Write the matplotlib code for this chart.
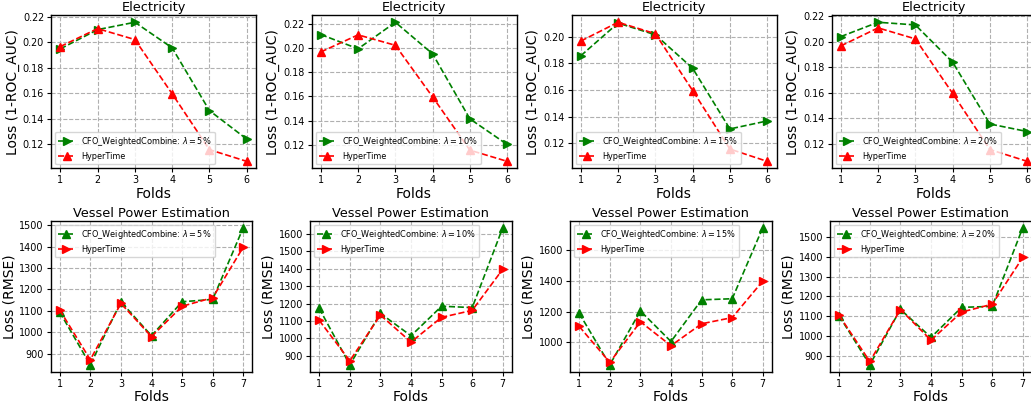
import matplotlib
matplotlib.use("Agg")
import matplotlib.pyplot as plt
from matplotlib.ticker import MultipleLocator

# Electricity (6 folds), loss = 1 - ROC_AUC
elec_folds = [1, 2, 3, 4, 5, 6]
elec_hypertime = [0.1966, 0.2107, 0.2021, 0.1595, 0.1156, 0.1064]
elec_cfo_5 = [0.1948, 0.2099, 0.2157, 0.1956, 0.1463, 0.1239]
elec_cfo_10 = [0.2110, 0.1992, 0.2211, 0.1950, 0.1414, 0.1203]
elec_cfo_15 = [0.1856, 0.2101, 0.2013, 0.1762, 0.1307, 0.1367]
elec_cfo_20 = [0.2039, 0.2151, 0.2130, 0.1839, 0.1356, 0.1297]

# Vessel power estimation (7 folds), loss = RMSE
vessel_folds = [1, 2, 3, 4, 5, 6, 7]
vessel_hypertime = [1104, 871, 1134, 979, 1121, 1161, 1398]
vessel_cfo_5 = [1094, 847, 1142, 983, 1142, 1153, 1489]
vessel_cfo_10 = [1173, 848, 1144, 1015, 1185, 1177, 1637]
vessel_cfo_15 = [1189, 855, 1204, 1006, 1276, 1283, 1744]
vessel_cfo_20 = [1102, 854, 1135, 993, 1145, 1150, 1549]

lambdas = ["5%", "10%", "15%", "20%"]
vessel_ystep = [100, 100, 200, 100]

W, H = 1031, 407
fig = plt.figure(figsize=(W / 100, H / 100), dpi=100)

TITLE_FS = 9.3
LABEL_FS = 10
TICK_FS = 6.9
LEGEND_FS = 5.9


def px_axes(left, top, right, bottom):
    return fig.add_axes([left / W, 1 - bottom / H, (right - left) / W, (bottom - top) / H])


def style_axes(ax, title, ylabel):
    ax.set_title(title, fontsize=TITLE_FS, pad=3)
    ax.set_xlabel("Folds", fontsize=LABEL_FS, labelpad=1)
    ax.set_ylabel(ylabel, fontsize=LABEL_FS, labelpad=2)
    ax.tick_params(labelsize=TICK_FS, length=3, pad=2)
    ax.grid(True, linestyle="--", color="#b0b0b0", linewidth=0.8)
    for s in ax.spines.values():
        s.set_linewidth(1.0)


elec_cfo = [elec_cfo_5, elec_cfo_10, elec_cfo_15, elec_cfo_20]
vessel_cfo = [vessel_cfo_5, vessel_cfo_10, vessel_cfo_15, vessel_cfo_20]

top_lefts = [51, 311.5, 571.5, 831.5]
bot_lefts = [50.5, 310, 570, 830]

for i in range(4):
    # top row: Electricity
    ax = px_axes(top_lefts[i], 15.3, top_lefts[i] + 205, 168.3)
    ax.plot(elec_folds, elec_cfo[i], "g--", marker=">", markersize=5.5, linewidth=1.2,
            label=r"CFO_WeightedCombine: $\lambda = $" + lambdas[i])
    ax.plot(elec_folds, elec_hypertime, "r--", marker="^", markersize=5.5, linewidth=1.2,
            label="HyperTime")
    ax.set_xticks(elec_folds)
    style_axes(ax, "Electricity", "Loss (1-ROC_AUC)")
    ax.legend(loc="lower left", fontsize=LEGEND_FS, framealpha=0.8)

    # bottom row: Vessel Power Estimation
    ax = px_axes(bot_lefts[i], 220.7, bot_lefts[i] + 202, 371.7)
    ax.plot(vessel_folds, vessel_cfo[i], "g--", marker="^", markersize=5.5, linewidth=1.2,
            label=r"CFO_WeightedCombine: $\lambda = $" + lambdas[i])
    ax.plot(vessel_folds, vessel_hypertime, "r--", marker=">", markersize=5.5, linewidth=1.2,
            label="HyperTime")
    ax.set_xticks(vessel_folds)
    ax.yaxis.set_major_locator(MultipleLocator(vessel_ystep[i]))
    style_axes(ax, "Vessel Power Estimation", "Loss (RMSE)")
    ax.legend(loc="upper left", fontsize=LEGEND_FS, framealpha=0.8)

fig.savefig("out.png", dpi=100)
